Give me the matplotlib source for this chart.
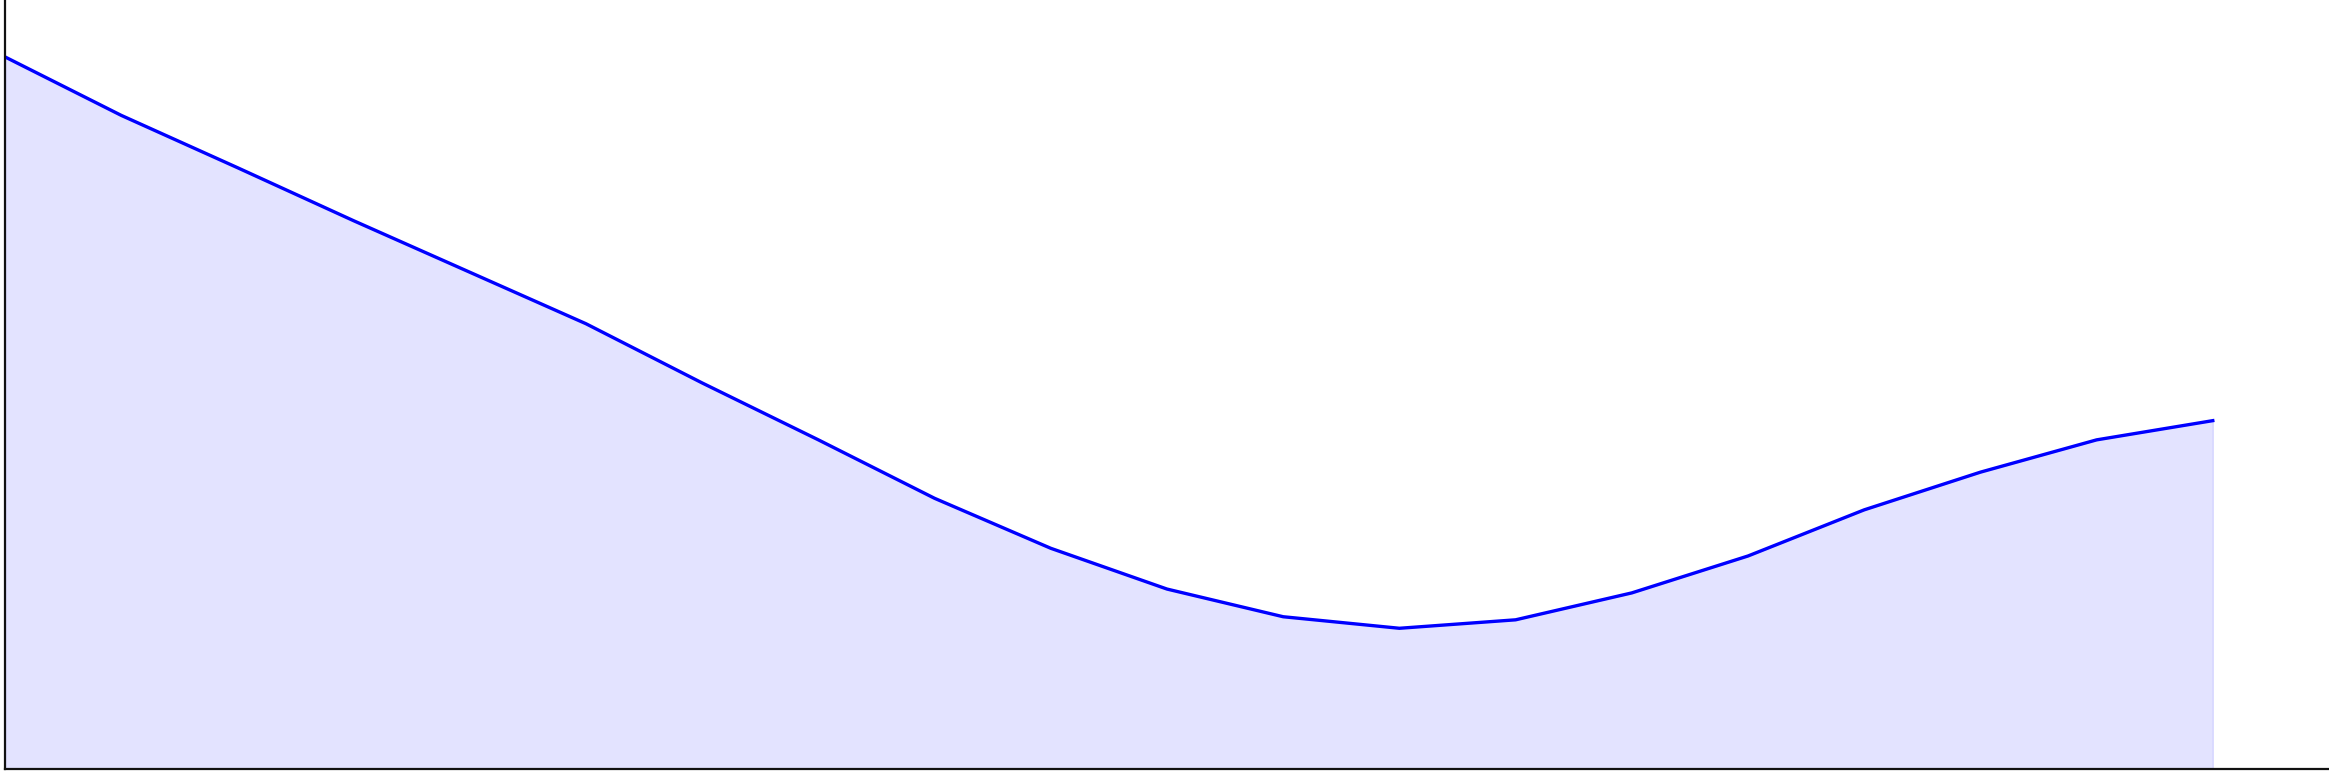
import matplotlib
matplotlib.use("Agg")
import matplotlib.pyplot as plt

# data (index positions and values)
x_values = list(range(20))
y_values = [92.6, 85.0, 78.2, 71.3, 64.6, 57.9, 50.2, 42.8, 35.2, 28.7,
            23.4, 19.8, 18.3, 19.4, 22.9, 27.7, 33.7, 38.6, 42.8, 45.3]

W, H = 2329, 774
fig = plt.figure(figsize=(W / 100, H / 100), dpi=100)
ax = fig.add_axes([5 / W, 5 / H, 1 - 5 / W, 1 - 5 / H])

ax.fill_between(x_values, y_values, 0, color="blue", alpha=0.11, linewidth=1)
ax.plot(x_values, y_values, color="blue", linewidth=2.4)

ax.set_xlim(0, 20)
ax.set_ylim(0, 100)
ax.set_xticks([])
ax.set_yticks([])
for s in ("top", "right"):
    ax.spines[s].set_visible(False)
for s in ("left", "bottom"):
    ax.spines[s].set_linewidth(1.6)
    ax.spines[s].set_color("#111111")

fig.savefig("out.png", dpi=100)
